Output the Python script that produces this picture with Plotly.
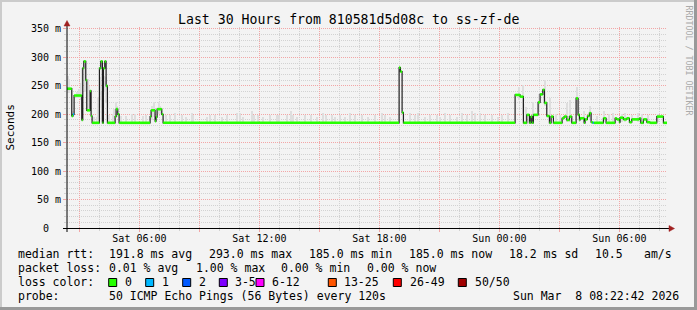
import plotly.graph_objects as go
import pandas as pd

# ---------------- data ----------------
start_time = "2026-03-07 02:22:42"
end_time = "2026-03-08 08:22:42"

# median RTT step series: segment start times, values (ms), loss (count of 50)
median_times = [
    "2026-03-07 02:22:42", "2026-03-07 02:37", "2026-03-07 02:41", "2026-03-07 02:44",
    "2026-03-07 03:07", "2026-03-07 03:10", "2026-03-07 03:13", "2026-03-07 03:19",
    "2026-03-07 03:22", "2026-03-07 03:32", "2026-03-07 03:35", "2026-03-07 03:38",
    "2026-03-07 04:00", "2026-03-07 04:04", "2026-03-07 04:09", "2026-03-07 04:12",
    "2026-03-07 04:16", "2026-03-07 04:20", "2026-03-07 04:24", "2026-03-07 04:47",
    "2026-03-07 04:50", "2026-03-07 04:55", "2026-03-07 04:59", "2026-03-07 06:32",
    "2026-03-07 06:35", "2026-03-07 06:47", "2026-03-07 06:50", "2026-03-07 06:53",
    "2026-03-07 07:07", "2026-03-07 07:11", "2026-03-07 18:59", "2026-03-07 19:03",
    "2026-03-07 19:08", "2026-03-07 19:12",
    "2026-03-08 00:47", "2026-03-08 01:02", "2026-03-08 01:12", "2026-03-08 01:22",
    "2026-03-08 01:30", "2026-03-08 01:34", "2026-03-08 01:38", "2026-03-08 01:42",
    "2026-03-08 01:56", "2026-03-08 02:02", "2026-03-08 02:10", "2026-03-08 02:15",
    "2026-03-08 02:22", "2026-03-08 02:30", "2026-03-08 02:35", "2026-03-08 02:42",
    "2026-03-08 03:08", "2026-03-08 03:14", "2026-03-08 03:22", "2026-03-08 03:30",
    "2026-03-08 03:37", "2026-03-08 03:50", "2026-03-08 03:56", "2026-03-08 04:00",
    "2026-03-08 04:02", "2026-03-08 04:14", "2026-03-08 04:17", "2026-03-08 04:24",
    "2026-03-08 04:30", "2026-03-08 04:35", "2026-03-08 04:40", "2026-03-08 04:43",
    "2026-03-08 05:12", "2026-03-08 05:20", "2026-03-08 05:47", "2026-03-08 05:52",
    "2026-03-08 06:00", "2026-03-08 06:02", "2026-03-08 06:12", "2026-03-08 06:22",
    "2026-03-08 06:30", "2026-03-08 06:37", "2026-03-08 07:00", "2026-03-08 07:04",
    "2026-03-08 07:12", "2026-03-08 07:22", "2026-03-08 07:32", "2026-03-08 07:52",
    "2026-03-08 08:12",
]
median_ms = [
    245, 197, 200, 233,
    190, 281, 293, 260,
    207, 241, 197, 185,
    281, 293, 185, 281,
    293, 250, 185, 196,
    209, 200, 185, 196,
    207, 188, 195, 209,
    200, 185, 282, 275,
    203, 185,
    234, 231, 185, 199,
    185, 196, 185, 199,
    221, 235, 243, 220,
    197, 185, 196, 185,
    193, 196, 190, 196,
    185, 228, 199, 190,
    193, 185, 191, 197,
    202, 186, 185, 185,
    193, 185, 193, 191,
    186, 194, 191, 193,
    186, 191, 193, 185,
    191, 186, 185, 196,
    185,
]
median_loss = [0, 0, 1] + [0] * 61 + [1] + [0] * 18

# smoke (spread of the individual pings): time, low, high (ms)
smoke_times = [
    "2026-03-07 02:25", "2026-03-07 02:28", "2026-03-07 02:40", "2026-03-07 02:52",
    "2026-03-07 03:00", "2026-03-07 03:05", "2026-03-07 03:08", "2026-03-07 03:16",
    "2026-03-07 03:25", "2026-03-07 03:29", "2026-03-07 03:44", "2026-03-07 03:52",
    "2026-03-07 03:57", "2026-03-07 04:01", "2026-03-07 04:07", "2026-03-07 04:14",
    "2026-03-07 04:20", "2026-03-07 04:30", "2026-03-07 04:40", "2026-03-07 04:44",
    "2026-03-07 04:50", "2026-03-07 04:53", "2026-03-07 05:05", "2026-03-07 05:20",
    "2026-03-07 05:38", "2026-03-07 05:48", "2026-03-07 06:10", "2026-03-07 06:20",
    "2026-03-07 06:38", "2026-03-07 06:45", "2026-03-07 06:58", "2026-03-07 07:03",
    "2026-03-07 07:20", "2026-03-07 07:32", "2026-03-07 07:47", "2026-03-07 08:07",
    "2026-03-07 08:20", "2026-03-07 08:37", "2026-03-07 08:42", "2026-03-07 09:22",
    "2026-03-07 09:32", "2026-03-07 09:47", "2026-03-07 10:07", "2026-03-07 10:22",
    "2026-03-07 10:52", "2026-03-07 11:02", "2026-03-07 11:12", "2026-03-07 11:37",
    "2026-03-07 11:44", "2026-03-07 11:57", "2026-03-07 12:12", "2026-03-07 12:32",
    "2026-03-07 12:52", "2026-03-07 12:59", "2026-03-07 13:22", "2026-03-07 13:34",
    "2026-03-07 13:42", "2026-03-07 13:54", "2026-03-07 14:17", "2026-03-07 14:34",
    "2026-03-07 14:52", "2026-03-07 15:12", "2026-03-07 15:19", "2026-03-07 15:37",
    "2026-03-07 15:47", "2026-03-07 16:02", "2026-03-07 16:17", "2026-03-07 16:32",
    "2026-03-07 16:47", "2026-03-07 17:07", "2026-03-07 17:27", "2026-03-07 17:47",
    "2026-03-07 18:07", "2026-03-07 18:17", "2026-03-07 18:32", "2026-03-07 19:32",
    "2026-03-07 19:47", "2026-03-07 19:57", "2026-03-07 20:17", "2026-03-07 20:32",
    "2026-03-07 20:52", "2026-03-07 21:02", "2026-03-07 21:17", "2026-03-07 21:32",
    "2026-03-07 21:52", "2026-03-07 22:07", "2026-03-07 22:22", "2026-03-07 22:37",
    "2026-03-07 22:47", "2026-03-07 23:02", "2026-03-07 23:17", "2026-03-07 23:37",
    "2026-03-07 23:57", "2026-03-08 00:07", "2026-03-08 00:27",
    "2026-03-08 00:59", "2026-03-08 01:11", "2026-03-08 01:20", "2026-03-08 01:40",
    "2026-03-08 01:59", "2026-03-08 02:17", "2026-03-08 02:32", "2026-03-08 02:50",
    "2026-03-08 03:02", "2026-03-08 03:23", "2026-03-08 03:32", "2026-03-08 03:53",
    "2026-03-08 04:14", "2026-03-08 04:32", "2026-03-08 04:53", "2026-03-08 05:14",
    "2026-03-08 05:29", "2026-03-08 05:41", "2026-03-08 06:07", "2026-03-08 06:17",
    "2026-03-08 06:38", "2026-03-08 06:56", "2026-03-08 07:07", "2026-03-08 07:26",
    "2026-03-08 07:56",
]
smoke_low = [
    238, 238, 195, 228, 228, 225, 190, 240, 205, 205, 186, 186, 186, 225, 186, 240,
    220, 186, 186, 186, 200, 196, 186, 186, 186, 186, 186, 186, 190, 195, 200, 200,
] + [186] * 63 + [
    225, 200, 186, 186, 205, 215, 186, 186, 186, 186, 186, 200, 186, 190, 186, 186,
    186, 186, 186, 186, 186, 186, 186, 186, 186,
]
smoke_high = [
    268, 262, 205, 240, 245, 255, 280, 293, 262, 250, 195, 195, 230, 265, 240, 268,
    265, 198, 200, 210, 222, 215, 197, 197, 200, 200, 197, 198, 215, 222, 222, 215,
    199, 199, 202, 199, 196, 202, 199, 196, 199, 199, 196, 199, 202, 202, 196, 205,
    199, 199, 196, 199, 199, 199, 199, 205, 199, 196, 199, 199, 196, 202, 199, 199,
    196, 199, 196, 202, 199, 199, 196, 199, 202, 199, 196, 202, 199, 202, 196, 199,
    199, 196, 202, 199, 196, 202, 199, 206, 202, 203, 199, 199, 196, 199, 202,
    248, 251, 212, 222, 235, 260, 229, 200, 198, 220, 225, 248, 205, 215, 197, 206,
    200, 203, 200, 203, 198, 203, 200, 198, 200,
]

tick_times = ["2026-03-07 03:00", "2026-03-07 06:00", "2026-03-07 09:00", "2026-03-07 12:00",
              "2026-03-07 15:00", "2026-03-07 18:00", "2026-03-07 21:00", "2026-03-08 00:00",
              "2026-03-08 03:00", "2026-03-08 06:00"]
tick_labels = ["", "Sat 06:00", "", "Sat 12:00", "", "Sat 18:00", "", "Sun 00:00", "", "Sun 06:00"]
ytick_vals = [0, 50, 100, 150, 200, 250, 300, 350]
ytick_labels = ["0\u00a0\u00a0", "50 m", "100 m", "150 m", "200 m", "250 m", "300 m", "350 m"]

loss_labels = ["0", "1", "2", "3-5", "6-12", "13-25", "26-49", "50/50"]
loss_colors = ["#26ff00", "#00b8ff", "#0059ff", "#7e00ff", "#ff00ff", "#ff5500", "#ff0000", "#a10000"]

stats_median = ["191.8 ms avg", "293.0 ms max", "185.0 ms min", "185.0 ms now", "18.2 ms sd", "10.5", "am/s"]
stats_loss = ["0.01 % avg", "1.00 % max", "0.00 % min", "0.00 % now"]
probe_text = "50 ICMP Echo Pings (56 Bytes) every 120s"
stamp_text = "Sun Mar\u00a0\u00a08 08:22:42 2026"
title_text = "Last 30 Hours from 810581d5d08c to ss-zf-de"

# ---------------- layout geometry (pixels) ----------------
W, H = 697, 310
L, R, T, B = 67, 667, 27, 228
MONO = "DejaVu Sans Mono"


def px(x):
    return (x - L) / (R - L)


def py(y):
    return (B - y) / (B - T)


fig = go.Figure()

# smoke
st = pd.to_datetime(smoke_times, format="mixed")
fig.add_trace(go.Bar(
    x=st, base=smoke_low, y=[h - l for h, l in zip(smoke_high, smoke_low)],
    width=180000, marker=dict(color="#dedede", line=dict(width=0)),
    hoverinfo="skip", showlegend=False))

# median black line
mt = list(pd.to_datetime(median_times, format="mixed")) + [pd.to_datetime(end_time)]
fig.add_trace(go.Scatter(
    x=mt, y=median_ms + [median_ms[-1]], mode="lines",
    line=dict(color="#202020", width=1.2, shape="hv"),
    hoverinfo="skip", showlegend=False))

# loss-coloured median bands
for lv, col in ((0, loss_colors[0]), (1, loss_colors[1])):
    xs, ys = [], []
    for i, v in enumerate(median_ms):
        if median_loss[i] != lv:
            continue
        xs += [mt[i], mt[i + 1], None]
        ys += [v, v, None]
    fig.add_trace(go.Scatter(x=xs, y=ys, mode="lines",
                             line=dict(color=col, width=2.6),
                             hoverinfo="skip", showlegend=False, connectgaps=False))

MAJ = "#f2a6a6"
MIN = "#d2d2d2"
fig.update_xaxes(
    range=[start_time, end_time], type="date",
    tickmode="array", tickvals=tick_times, ticktext=tick_labels,
    showgrid=True, gridcolor=MAJ, griddash="1px,1px", gridwidth=1,
    ticks="outside", ticklen=3, tickcolor=MAJ, ticklabelstandoff=-2,
    tickfont=dict(family=MONO, size=10, color="#000"),
    minor=dict(dtick=3600000, tick0="2026-03-07 00:00", showgrid=True, gridcolor=MIN,
               griddash="1px,1px", ticks="outside", ticklen=2, tickcolor=MIN),
    showline=False, zeroline=False, fixedrange=True,
)
fig.update_yaxes(
    range=[0, 353.5], tickmode="array", tickvals=ytick_vals, ticktext=ytick_labels,
    showgrid=True, gridcolor=MAJ, griddash="1px,1px", gridwidth=1,
    ticks="outside", ticklen=3, tickcolor=MAJ,
    tickfont=dict(family=MONO, size=10, color="#000"),
    minor=dict(dtick=10, showgrid=True, gridcolor=MIN, griddash="1px,1px",
               ticks="outside", ticklen=2, tickcolor=MIN),
    showline=False, zeroline=False, fixedrange=True,
)

shapes = []
# axes lines
shapes.append(dict(type="line", xref="paper", yref="paper", x0=px(63), x1=px(670), y0=py(228.5), y1=py(228.5),
                   line=dict(color="#000", width=1)))
shapes.append(dict(type="line", xref="paper", yref="paper", x0=px(67), x1=px(67), y0=py(232), y1=py(25),
                   line=dict(color="#000", width=1)))
# arrows
shapes.append(dict(type="path", xref="paper", yref="paper",
                   path=f"M {px(669)},{py(225.5)} L {px(674.5)},{py(228.5)} L {px(669)},{py(231.5)} Z",
                   fillcolor="#a02020", line=dict(color="#a02020", width=0.5)))
shapes.append(dict(type="path", xref="paper", yref="paper",
                   path=f"M {px(64)},{py(26)} L {px(67)},{py(20.5)} L {px(70)},{py(26)} Z",
                   fillcolor="#a02020", line=dict(color="#a02020", width=0.5)))
# frame
shapes.append(dict(type="rect", xref="paper", yref="paper", x0=px(0), x1=px(2), y0=py(0), y1=py(310),
                   fillcolor="#cbcbcb", line=dict(width=0), layer="above"))
shapes.append(dict(type="rect", xref="paper", yref="paper", x0=px(0), x1=px(697), y0=py(0), y1=py(2),
                   fillcolor="#cbcbcb", line=dict(width=0), layer="above"))
shapes.append(dict(type="rect", xref="paper", yref="paper", x0=px(694), x1=px(697), y0=py(0), y1=py(310),
                   fillcolor="#999999", line=dict(width=0), layer="above"))
shapes.append(dict(type="rect", xref="paper", yref="paper", x0=px(0), x1=px(697), y0=py(307), y1=py(310),
                   fillcolor="#999999", line=dict(width=0), layer="above"))

# loss colour boxes
box_x = [108.7, 145.7, 182.7, 219.3, 256, 328.3, 393.3, 458.3]
text_x = [123.3, 160, 196.7, 233.3, 270, 342.3, 408.3, 473.3]
annotations = []
for bx, tx, lab, col in zip(box_x, text_x, loss_labels, loss_colors):
    shapes.append(dict(type="rect", xref="paper", yref="paper", x0=px(bx), x1=px(bx + 8),
                       y0=py(278.5), y1=py(286.5), fillcolor=col, line=dict(color="#000", width=1)))
    annotations.append(dict(x=px(tx), y=py(282.3), text=lab))

# legend texts
annotations.append(dict(x=px(16), y=py(254), text="median rtt:"))
for xx, s in zip([107.3, 207.3, 306.7, 407.3, 507.3, 593.3, 642.3], stats_median):
    annotations.append(dict(x=px(xx), y=py(254), text=s))
annotations.append(dict(x=px(16), y=py(268.3), text="packet loss:"))
for xx, s in zip([107.3, 194.3, 278.7, 365], stats_loss):
    annotations.append(dict(x=px(xx), y=py(268.3), text=s))
annotations.append(dict(x=px(16), y=py(282.3), text="loss color:"))
annotations.append(dict(x=px(16), y=py(296), text="probe:"))
annotations.append(dict(x=px(107.3), y=py(296), text=probe_text))
for a in annotations:
    a.update(xref="paper", yref="paper", xanchor="left", yanchor="middle", showarrow=False,
             font=dict(family=MONO, size=11.5, color="#000"))
annotations.append(dict(x=px(680.5), y=py(296), text=stamp_text, xref="paper", yref="paper",
                        xanchor="right", yanchor="middle", showarrow=False,
                        font=dict(family=MONO, size=11.5, color="#000")))
# title
annotations.append(dict(x=px(348.5), y=py(19.5), text=title_text, xref="paper", yref="paper",
                        xanchor="center", yanchor="middle", showarrow=False,
                        font=dict(family=MONO, size=13.2, color="#000")))
# y title
annotations.append(dict(x=px(10), y=py(127.5), text="Seconds", textangle=-90, xref="paper", yref="paper",
                        xanchor="center", yanchor="middle", showarrow=False,
                        font=dict(family=MONO, size=11, color="#000")))
# watermark
annotations.append(dict(x=px(688.5), y=py(60), text="RRDTOOL / TOBI OETIKER", textangle=90,
                        xref="paper", yref="paper", xanchor="center", yanchor="middle", showarrow=False,
                        font=dict(family=MONO, size=8.3, color="#aaaaaa")))

fig.update_layout(
    width=W, height=H, autosize=False,
    margin=dict(l=L, r=W - R, t=T, b=H - B, pad=0),
    paper_bgcolor="#f3f3f3", plot_bgcolor="#f3f3f3",
    barmode="overlay", bargap=0, showlegend=False,
    shapes=shapes, annotations=annotations,
    font=dict(family=MONO),
)

fig.write_html("out.html", config={"displayModeBar": False})
